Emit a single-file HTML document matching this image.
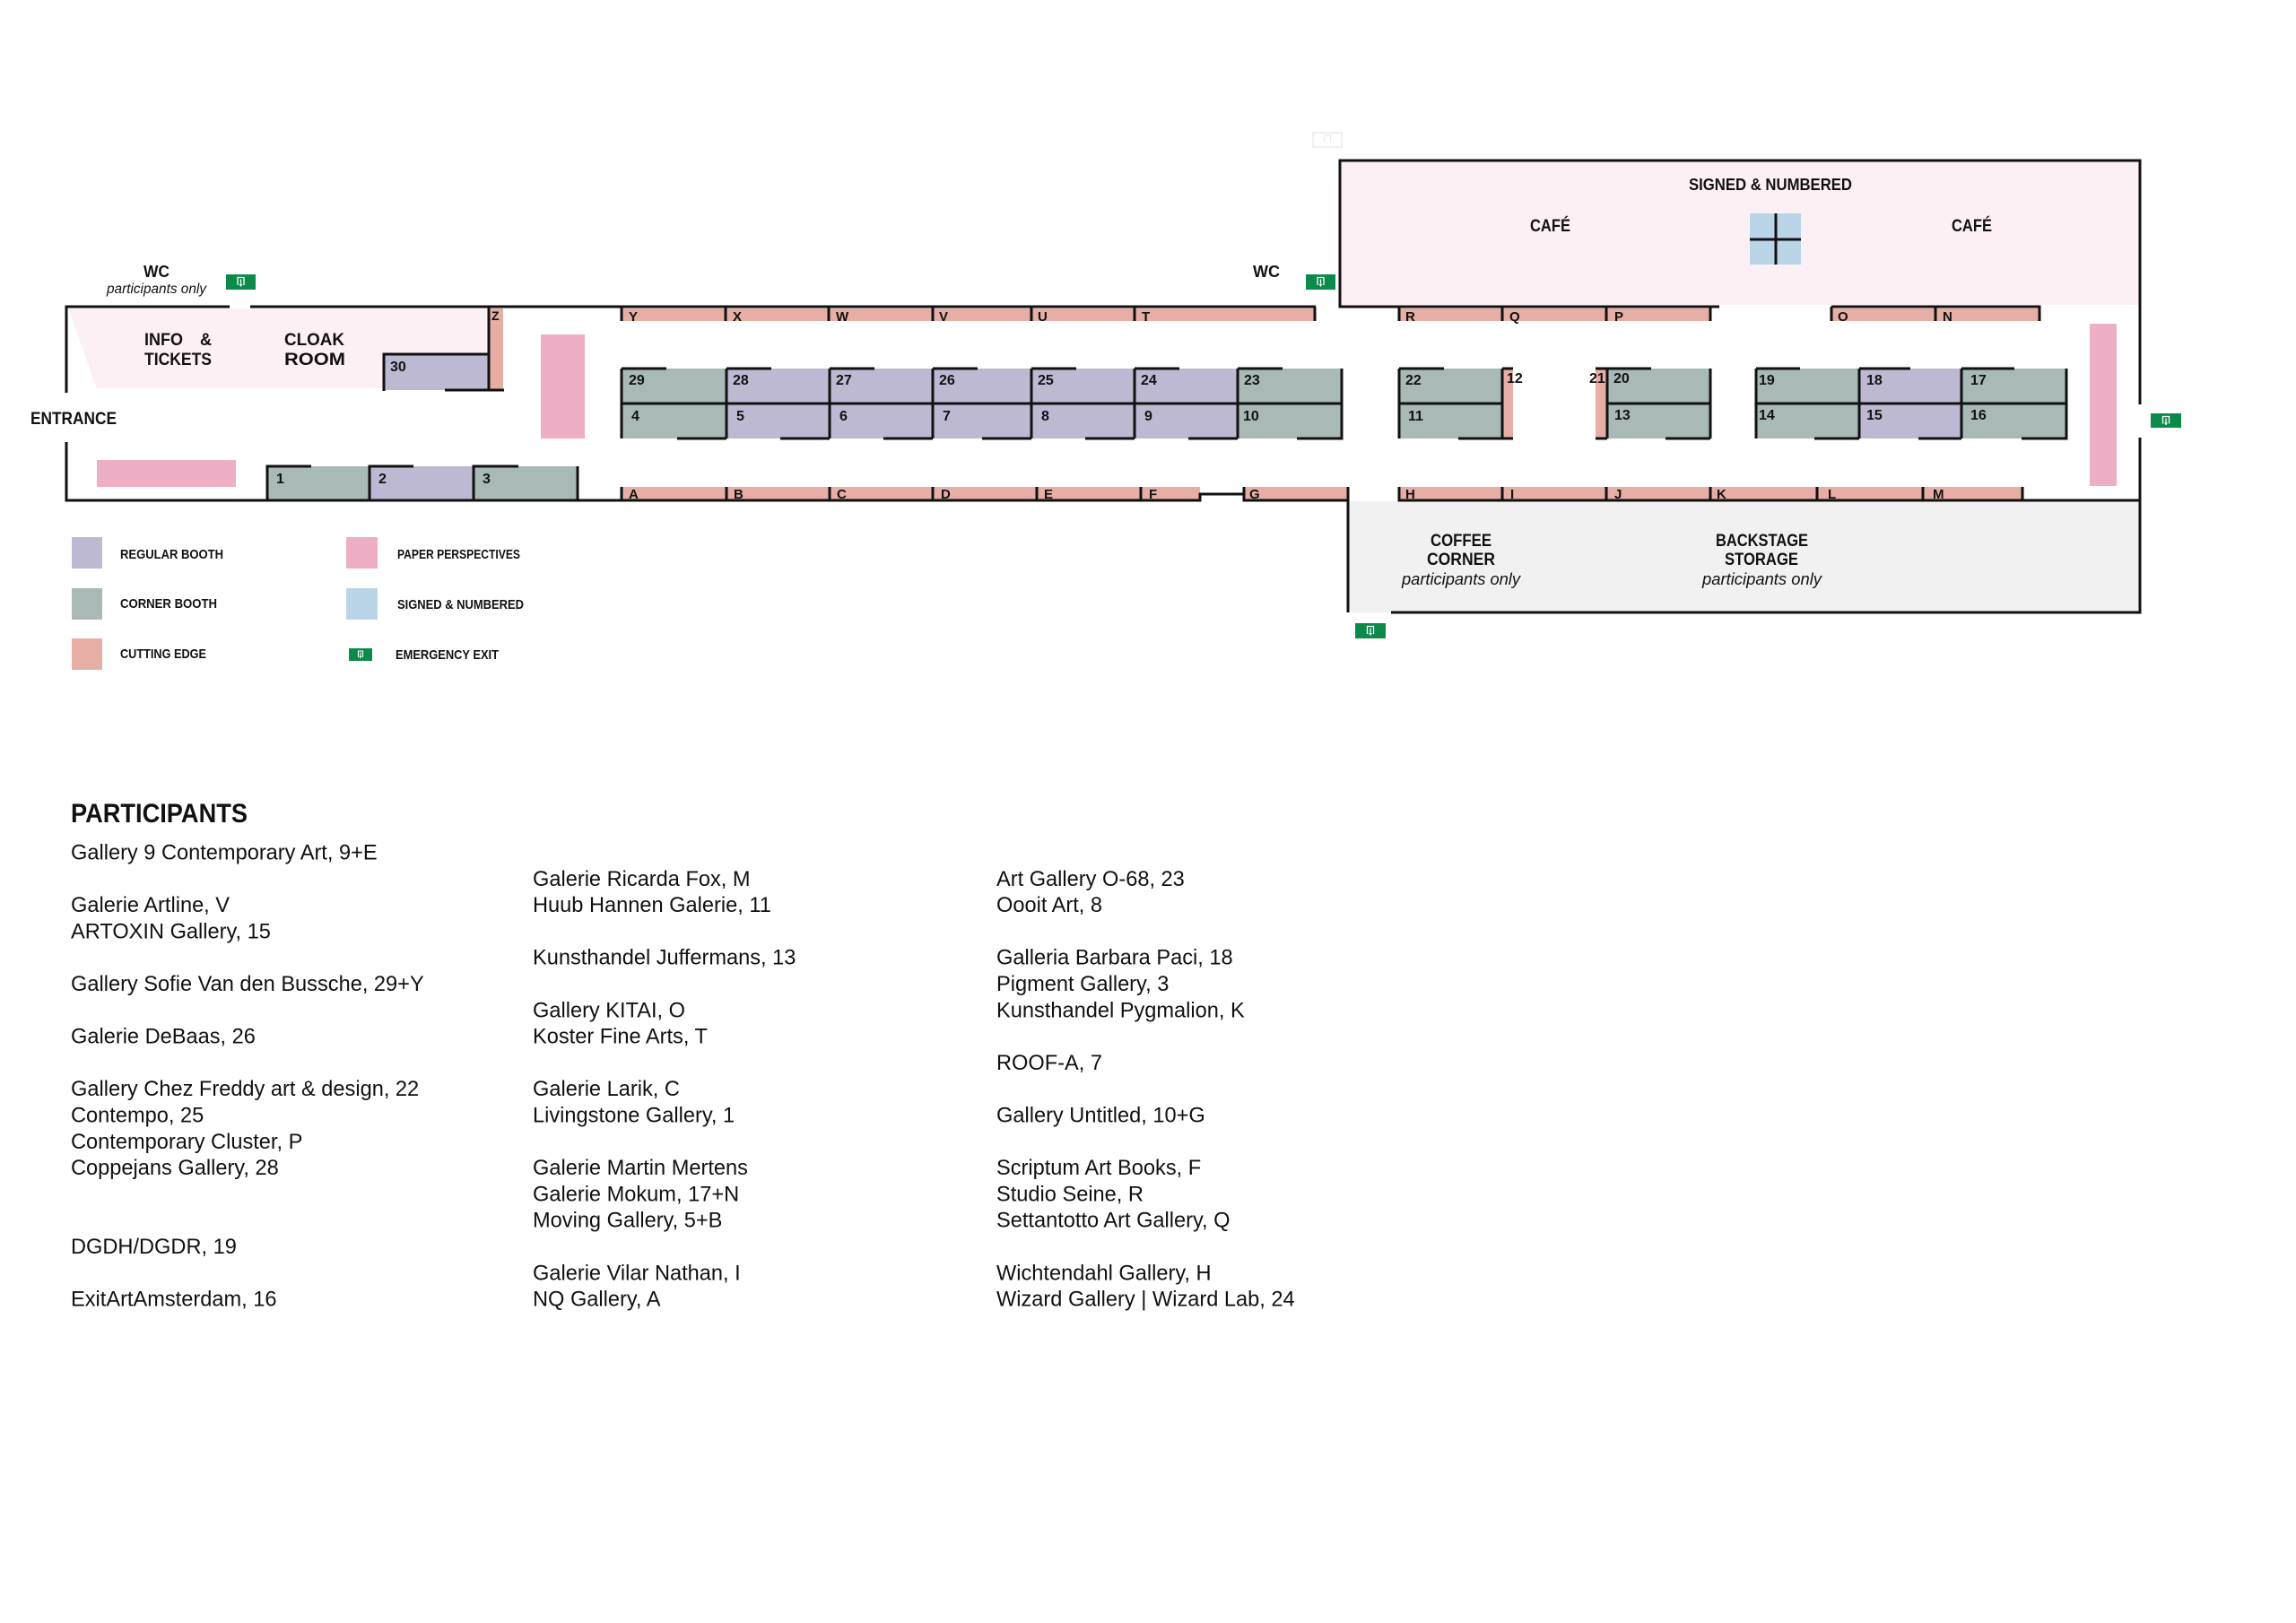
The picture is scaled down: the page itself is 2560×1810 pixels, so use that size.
<!DOCTYPE html>
<html><head><meta charset="utf-8">
<style>
html,body{margin:0;padding:0;background:#fff;}
svg{display:block;}
text{font-family:"Liberation Sans",Arial,sans-serif;fill:#111;}
.b{font-weight:bold;}
.bl{font-weight:bold;font-size:16px;}
.sl{font-weight:bold;font-size:15px;}
.it{font-style:italic;}
.p{font-size:23.6px;fill:#1c1c1c;}
.lg{font-weight:bold;font-size:15px;}
</style></head><body>
<svg width="2560" height="1810" viewBox="0 0 2560 1810" xmlns="http://www.w3.org/2000/svg">
<rect x="0" y="0" width="2560" height="1810" fill="#fff"/>

<!-- ===== FILLS ===== -->
<polygon points="76,344 545,344 545,395 428,395 428,433 108,433" fill="#fdf0f4"/>
<rect x="428" y="395" width="117" height="40" fill="#bdb9d2"/>
<rect x="545" y="344" width="16" height="91" fill="#e6aea5"/>
<rect x="603" y="373" width="49" height="116" fill="#eeaec5"/>
<rect x="108" y="513" width="155" height="30" fill="#eeaec5"/>
<rect x="298" y="520" width="114" height="38" fill="#a8b9b6"/>
<rect x="412" y="520" width="116" height="38" fill="#bdb9d2"/>
<rect x="528" y="520" width="116" height="38" fill="#a8b9b6"/>

<rect x="693" y="344" width="773" height="14" fill="#e6aea5"/>
<rect x="693" y="543" width="645" height="15" fill="#e6aea5"/>
<rect x="1387" y="543" width="116" height="15" fill="#e6aea5"/>

<rect x="693" y="411" width="117" height="78" fill="#a8b9b6"/>
<rect x="810" y="411" width="570" height="78" fill="#bdb9d2"/>
<rect x="1380" y="411" width="116" height="78" fill="#a8b9b6"/>

<rect x="1494" y="179" width="892" height="161" fill="#fdf0f4"/>
<rect x="1951" y="238" width="57" height="57" fill="#bad4e8"/>
<rect x="1560" y="344" width="347" height="14" fill="#e6aea5"/>
<rect x="2042" y="344" width="232" height="14" fill="#e6aea5"/>
<rect x="1560" y="411" width="115" height="78" fill="#a8b9b6"/>
<rect x="1675" y="411" width="12" height="78" fill="#e6aea5"/>
<rect x="1779" y="411" width="13" height="78" fill="#e6aea5"/>
<rect x="1792" y="411" width="115" height="78" fill="#a8b9b6"/>
<rect x="1958" y="411" width="115" height="78" fill="#a8b9b6"/>
<rect x="2073" y="411" width="114" height="78" fill="#bdb9d2"/>
<rect x="2187" y="411" width="117" height="78" fill="#a8b9b6"/>
<rect x="2330" y="361" width="30" height="181" fill="#eeaec5"/>
<rect x="1560" y="543" width="695" height="15" fill="#e6aea5"/>
<rect x="1503" y="559" width="883" height="124" fill="#f1f1f1"/>

<!-- ===== LINES ===== -->
<g stroke="#111" stroke-width="3" fill="none">
<path d="M72.5,342 H256 M279,342 H1467"/>
<path d="M74,340.5 V438 M74,493 V559.5"/>
<path d="M72.5,558 H1338 V551 H1387 V558 H1503"/>
<path d="M428,436 V395 H545"/>
<path d="M545,342 V435 M496,435 H562"/>
<path d="M298,558 V520 H347 M412,558 V520 H461 M528,558 V520 H578 M644,520 V558"/>
<path d="M693,342 V358 M809,342 V358 M924,342 V358 M1040,342 V358 M1150,342 V358 M1265,342 V358 M1466,342 V358"/>
<path d="M693,411 V489 M810,411 V489 M925,411 V489 M1040,411 V489 M1150,411 V489 M1265,411 V489 M1380,411 V489 M1496,411 V489"/>
<path d="M693,450 H1496"/>
<path d="M693,411 H743 M810,411 H860 M925,411 H975 M1040,411 H1090 M1150,411 H1200 M1265,411 H1315 M1380,411 H1430"/>
<path d="M755,489 H810 M870,489 H925 M985,489 H1040 M1095,489 H1150 M1210,489 H1265 M1325,489 H1380 M1446,489 H1497.5"/>
<path d="M693,543 V558 M810,543 V558 M925,543 V558 M1040,543 V558 M1156,543 V558 M1272,543 V558 M1387,543 V558"/>
<path d="M1503,543 V683"/>
<path d="M1494,343.5 V179 H2386 V451 M2386,488 V684.5"/>
<path d="M1494,342 H1917 M2042,342 H2275.5"/>
<path d="M1560,342 V358 M1675,342 V358 M1791,342 V358 M1907,342 V358 M2042,342 V358 M2158,342 V358 M2274,342 V358"/>
<path d="M1980,238 V295 M1951,267 H2008"/>
<path d="M1560,411 V489 M1675,411 V489 M1792,411 V489 M1907,411 V489 M1958,411 V489 M2073,411 V489 M2187,411 V489 M2304,411 V489"/>
<path d="M1560,450 H1675 M1792,450 H1907 M1958,450 H2304"/>
<path d="M1560,411 H1610 M1675,411 H1687 M1779,411 H1841 M1958,411 H2007 M2073,411 H2130 M2187,411 H2246"/>
<path d="M1626,489 H1687 M1779,489 H1792 M1857,489 H1907 M2023,489 H2073 M2139,489 H2187 M2254,489 H2305.5"/>
<path d="M1560,543 V558 M1675,543 V558 M1791,543 V558 M1907,543 V558 M2026,543 V558 M2144,543 V558 M2255,543 V558"/>
<path d="M1558.5,558 H2387.5"/>
<path d="M1551,683 H2387.5"/>
</g>

<rect x="1464" y="148" width="32" height="16" fill="none" stroke="#ececec" stroke-width="1.5"/>
<path d="M1476.5,159 V151 H1483.5 V159" stroke="#ececec" stroke-width="1.2" fill="none"/>

<!-- ===== EXIT ICONS ===== -->
<g transform="translate(252,306)"><rect width="33" height="17" fill="#0c8a4a"/><path d="M13,12 V3.5 H20 V12" stroke="#fff" stroke-width="1.3" fill="none"/><path d="M16.5,5.5 V12" stroke="#fff" stroke-width="1.3"/><path d="M14.5,11 L16.5,14 L18.5,11Z" fill="#fff"/></g>
<g transform="translate(1456,306)"><rect width="33" height="17" fill="#0c8a4a"/><path d="M13,12 V3.5 H20 V12" stroke="#fff" stroke-width="1.3" fill="none"/><path d="M16.5,5.5 V12" stroke="#fff" stroke-width="1.3"/><path d="M14.5,11 L16.5,14 L18.5,11Z" fill="#fff"/></g>
<g transform="translate(2398,461)"><rect width="34" height="16" fill="#0c8a4a"/><path d="M13.5,11.5 V3.5 H20.5 V11.5" stroke="#fff" stroke-width="1.3" fill="none"/><path d="M17,5.5 V11.5" stroke="#fff" stroke-width="1.3"/><path d="M15,10.5 L17,13.5 L19,10.5Z" fill="#fff"/></g>
<g transform="translate(1511,695)"><rect width="34" height="17" fill="#0c8a4a"/><path d="M13.5,12 V3.5 H20.5 V12" stroke="#fff" stroke-width="1.3" fill="none"/><path d="M17,5.5 V12" stroke="#fff" stroke-width="1.3"/><path d="M15,11 L17,14 L19,11Z" fill="#fff"/></g>
<g transform="translate(389,723)"><rect width="26" height="14" fill="#0c8a4a"/><path d="M10.5,10 V3 H15.5 V10" stroke="#fff" stroke-width="1.1" fill="none"/><path d="M13,4.5 V10" stroke="#fff" stroke-width="1.1"/><path d="M11.5,9 L13,11.5 L14.5,9Z" fill="#fff"/></g>

<!-- ===== MAP LABELS ===== -->
<text class="b" x="174.5" y="309" font-size="18" text-anchor="middle" textLength="29" lengthAdjust="spacingAndGlyphs">WC</text>
<text class="it" x="174.5" y="327" font-size="15.5" text-anchor="middle" textLength="111" lengthAdjust="spacingAndGlyphs">participants only</text>
<text class="b" x="1412" y="309" font-size="18" text-anchor="middle" textLength="30" lengthAdjust="spacingAndGlyphs">WC</text>
<text class="b" x="34" y="473" font-size="19" textLength="96" lengthAdjust="spacingAndGlyphs">ENTRANCE</text>
<text class="b" x="161" y="385" font-size="19" textLength="43" lengthAdjust="spacingAndGlyphs">INFO</text>
<text class="b" x="223" y="385" font-size="19" textLength="13" lengthAdjust="spacingAndGlyphs">&amp;</text>
<text class="b" x="161" y="407" font-size="19" textLength="75" lengthAdjust="spacingAndGlyphs">TICKETS</text>
<text class="b" x="317" y="385" font-size="19" textLength="67" lengthAdjust="spacingAndGlyphs">CLOAK</text>
<text class="b" x="317" y="407" font-size="19" textLength="68" lengthAdjust="spacingAndGlyphs">ROOM</text>

<text class="b" x="1883" y="212" font-size="18.5" textLength="182" lengthAdjust="spacingAndGlyphs">SIGNED &amp; NUMBERED</text>
<text class="b" x="1706" y="258" font-size="19" textLength="45" lengthAdjust="spacingAndGlyphs">CAFÉ</text>
<text class="b" x="2176" y="258" font-size="19" textLength="45" lengthAdjust="spacingAndGlyphs">CAFÉ</text>

<text class="b" x="1595" y="609" font-size="19" textLength="68" lengthAdjust="spacingAndGlyphs">COFFEE</text>
<text class="b" x="1591" y="630" font-size="19" textLength="76" lengthAdjust="spacingAndGlyphs">CORNER</text>
<text class="it" x="1563" y="652" font-size="18" textLength="132" lengthAdjust="spacingAndGlyphs">participants only</text>
<text class="b" x="1913" y="609" font-size="19" textLength="103" lengthAdjust="spacingAndGlyphs">BACKSTAGE</text>
<text class="b" x="1923" y="630" font-size="19" textLength="82" lengthAdjust="spacingAndGlyphs">STORAGE</text>
<text class="it" x="1898" y="652" font-size="18" textLength="133" lengthAdjust="spacingAndGlyphs">participants only</text>

<g class="bl">
<text x="435" y="414">30</text>
<text x="308" y="539">1</text>
<text x="422" y="539">2</text>
<text x="538" y="539">3</text>
<text x="701" y="429">29</text><text x="817" y="429">28</text><text x="932" y="429">27</text><text x="1047" y="429">26</text><text x="1157" y="429">25</text><text x="1272" y="429">24</text><text x="1387" y="429">23</text>
<text x="704" y="469">4</text><text x="821" y="469">5</text><text x="936" y="469">6</text><text x="1051" y="469">7</text><text x="1161" y="469">8</text><text x="1276" y="469">9</text><text x="1386" y="469">10</text>
<text x="1567" y="429">22</text><text x="1570" y="469">11</text>
<text x="1680" y="427">12</text>
<text x="1772" y="427">21</text><text x="1799" y="427">20</text><text x="1800" y="468">13</text>
<text x="1961" y="429">19</text><text x="2081" y="429">18</text><text x="2197" y="429">17</text>
<text x="1961" y="468">14</text><text x="2081" y="468">15</text><text x="2197" y="468">16</text>
</g>
<g class="sl">
<text x="548" y="357" font-size="14">Z</text>
<text x="701" y="358">Y</text><text x="817" y="358">X</text><text x="932" y="358">W</text><text x="1047" y="358">V</text><text x="1157" y="358">U</text><text x="1273" y="358">T</text>
<text x="701" y="556">A</text><text x="818" y="556">B</text><text x="933" y="556">C</text><text x="1049" y="556">D</text><text x="1164" y="556">E</text><text x="1281" y="556">F</text><text x="1393" y="556">G</text>
<text x="1567" y="358">R</text><text x="1683" y="358">Q</text><text x="1800" y="358">P</text><text x="2049" y="358">O</text><text x="2166" y="358">N</text>
<text x="1567" y="556">H</text><text x="1684" y="556">I</text><text x="1800" y="556">J</text><text x="1914" y="556">K</text><text x="2038" y="556">L</text><text x="2155" y="556">M</text>
</g>

<!-- ===== LEGEND ===== -->
<rect x="80" y="599" width="34" height="35" fill="#bdb9d2"/>
<rect x="80" y="656" width="34" height="35" fill="#a8b9b6"/>
<rect x="80" y="712" width="34" height="35" fill="#e6aea5"/>
<rect x="386" y="599" width="35" height="35" fill="#eeaec5"/>
<rect x="386" y="656" width="35" height="35" fill="#bad4e8"/>
<text class="lg" x="134" y="623" textLength="115" lengthAdjust="spacingAndGlyphs">REGULAR BOOTH</text>
<text class="lg" x="134" y="678" textLength="108" lengthAdjust="spacingAndGlyphs">CORNER BOOTH</text>
<text class="lg" x="134" y="734" textLength="96" lengthAdjust="spacingAndGlyphs">CUTTING EDGE</text>
<text class="lg" x="443" y="623" textLength="137" lengthAdjust="spacingAndGlyphs">PAPER PERSPECTIVES</text>
<text class="lg" x="443" y="679" textLength="141" lengthAdjust="spacingAndGlyphs">SIGNED &amp; NUMBERED</text>
<text class="lg" x="441" y="735" textLength="115" lengthAdjust="spacingAndGlyphs">EMERGENCY EXIT</text>

<!-- ===== PARTICIPANTS ===== -->
<text class="b" x="79" y="917" font-size="30" textLength="197" lengthAdjust="spacingAndGlyphs">PARTICIPANTS</text>
<g class="p">
<text x="79" y="958.5">Gallery 9 Contemporary Art, 9+E</text>
<text x="79" y="1017.1">Galerie Artline, V</text>
<text x="79" y="1046.4">ARTOXIN Gallery, 15</text>
<text x="79" y="1105">Gallery Sofie Van den Bussche, 29+Y</text>
<text x="79" y="1163.6">Galerie DeBaas, 26</text>
<text x="79" y="1222.2">Gallery Chez Freddy art &amp; design, 22</text>
<text x="79" y="1251.5">Contempo, 25</text>
<text x="79" y="1280.8">Contemporary Cluster, P</text>
<text x="79" y="1310.1">Coppejans Gallery, 28</text>
<text x="79" y="1398">DGDH/DGDR, 19</text>
<text x="79" y="1456.6">ExitArtAmsterdam, 16</text>

<text x="594" y="987.8">Galerie Ricarda Fox, M</text>
<text x="594" y="1017.1">Huub Hannen Galerie, 11</text>
<text x="594" y="1075.7">Kunsthandel Juffermans, 13</text>
<text x="594" y="1134.3">Gallery KITAI, O</text>
<text x="594" y="1163.6">Koster Fine Arts, T</text>
<text x="594" y="1222.2">Galerie Larik, C</text>
<text x="594" y="1251.5">Livingstone Gallery, 1</text>
<text x="594" y="1310.1">Galerie Martin Mertens</text>
<text x="594" y="1339.4">Galerie Mokum, 17+N</text>
<text x="594" y="1368.7">Moving Gallery, 5+B</text>
<text x="594" y="1427.3">Galerie Vilar Nathan, I</text>
<text x="594" y="1456.6">NQ Gallery, A</text>

<text x="1111" y="987.8">Art Gallery O-68, 23</text>
<text x="1111" y="1017.1">Oooit Art, 8</text>
<text x="1111" y="1075.7">Galleria Barbara Paci, 18</text>
<text x="1111" y="1105">Pigment Gallery, 3</text>
<text x="1111" y="1134.3">Kunsthandel Pygmalion, K</text>
<text x="1111" y="1192.9">ROOF-A, 7</text>
<text x="1111" y="1251.5">Gallery Untitled, 10+G</text>
<text x="1111" y="1310.1">Scriptum Art Books, F</text>
<text x="1111" y="1339.4">Studio Seine, R</text>
<text x="1111" y="1368.7">Settantotto Art Gallery, Q</text>
<text x="1111" y="1427.3">Wichtendahl Gallery, H</text>
<text x="1111" y="1456.6">Wizard Gallery | Wizard Lab, 24</text>
</g>
</svg>
</body></html>
